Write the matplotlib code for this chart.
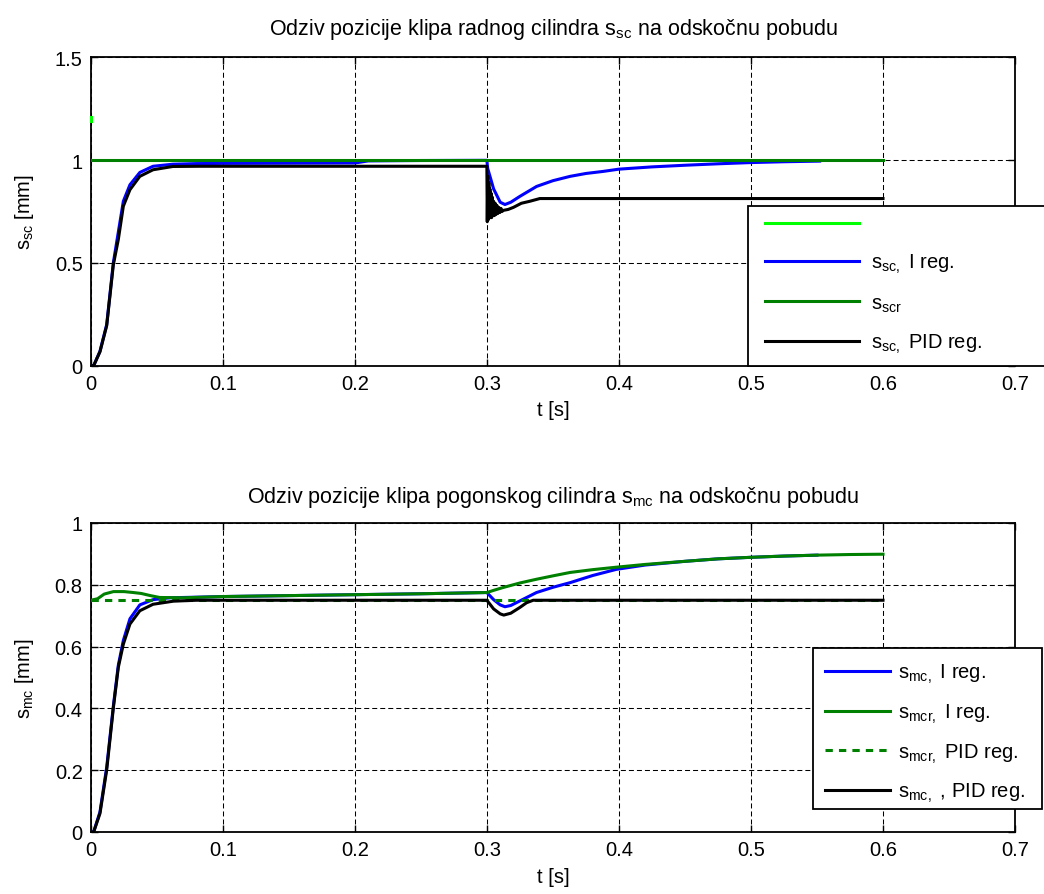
import matplotlib
matplotlib.use("Agg")
import matplotlib.pyplot as plt
from matplotlib.patches import Rectangle

plt.rcParams['font.family'] = ['Liberation Sans', 'DejaVu Sans']
plt.rcParams['mathtext.fontset'] = 'custom'
plt.rcParams['mathtext.rm'] = 'Liberation Sans'

# ---------------- data: top plot (s_sc) ----------------
top_lg_t = [0.0, 0.0]
top_lg_v = [1.19, 1.21]

top_ref_t = [0.0, 0.6]
top_ref_v = [1.0, 1.0]

top_i_t = [0, 0.002, 0.0068, 0.0119, 0.0169, 0.0207, 0.0245, 0.0295, 0.037, 0.047,
           0.062, 0.08, 0.1, 0.15, 0.2, 0.21, 0.25, 0.2999, 0.3005, 0.305, 0.31,
           0.3136, 0.318, 0.325, 0.3376, 0.35, 0.363, 0.375, 0.388, 0.40, 0.425,
           0.45, 0.475, 0.5, 0.525, 0.552]
top_i_v = [0, 0.0, 0.07, 0.2, 0.5, 0.65, 0.8, 0.88, 0.94, 0.97,
           0.98, 0.983, 0.984, 0.985, 0.986, 0.996, 0.998, 0.999, 0.96, 0.86, 0.795,
           0.784, 0.795, 0.824, 0.872, 0.9, 0.921, 0.935, 0.945, 0.956, 0.967,
           0.975, 0.982, 0.988, 0.992, 0.995]

top_pid_t = [0, 0.002, 0.0068, 0.0119, 0.0169, 0.0207, 0.0245, 0.0295, 0.037, 0.047,
             0.062, 0.082, 0.15, 0.2999,
             0.3002, 0.3006, 0.301, 0.3014, 0.3018, 0.3022, 0.3026, 0.303, 0.3035,
             0.304, 0.3045, 0.305, 0.3056, 0.3062, 0.3068, 0.3075, 0.3082, 0.309,
             0.3098, 0.3106, 0.3115, 0.312, 0.316, 0.32, 0.326, 0.3326, 0.34, 0.6]
top_pid_v = [0, 0.0, 0.068, 0.195, 0.49, 0.614, 0.776, 0.856, 0.921, 0.953,
             0.969, 0.970, 0.970, 0.970,
             0.70, 0.92, 0.71, 0.89, 0.72, 0.86, 0.72, 0.84, 0.72,
             0.82, 0.73, 0.80, 0.73, 0.79, 0.735, 0.78, 0.74, 0.77,
             0.745, 0.765, 0.75, 0.755, 0.76, 0.77, 0.79, 0.80, 0.813, 0.813]

# ---------------- data: bottom plot (s_mc) ----------------
bot_i_t = [0, 0.002, 0.0068, 0.0119, 0.017, 0.0207, 0.0245, 0.0295, 0.037, 0.047,
           0.06, 0.08, 0.1, 0.15, 0.2, 0.25, 0.2999, 0.305, 0.31, 0.3136, 0.318,
           0.325, 0.3375, 0.35, 0.363, 0.38, 0.398, 0.42, 0.45, 0.475, 0.5, 0.525, 0.55]
bot_i_v = [0, 0.0, 0.065, 0.21, 0.41, 0.54, 0.62, 0.69, 0.735, 0.752,
           0.758, 0.76, 0.762, 0.765, 0.768, 0.771, 0.775, 0.752, 0.735, 0.729, 0.733,
           0.748, 0.775, 0.792, 0.807, 0.83, 0.85, 0.864, 0.876, 0.884, 0.889, 0.893, 0.896]

bot_ri_t = [0, 0.005, 0.01, 0.017, 0.025, 0.032, 0.038, 0.045, 0.052, 0.07, 0.1,
            0.15, 0.2, 0.25, 0.2999, 0.305, 0.312, 0.325, 0.3375, 0.35, 0.363, 0.38,
            0.398, 0.42, 0.45, 0.475, 0.5, 0.525, 0.55, 0.575, 0.6]
bot_ri_v = [0.75, 0.755, 0.77, 0.778, 0.778, 0.775, 0.772, 0.765, 0.759, 0.758, 0.762,
            0.765, 0.768, 0.771, 0.775, 0.782, 0.791, 0.806, 0.818, 0.829, 0.84, 0.849,
            0.857, 0.866, 0.876, 0.884, 0.889, 0.893, 0.896, 0.898, 0.899]

bot_rp_t = [0.0, 0.6]
bot_rp_v = [0.75, 0.75]

bot_pid_t = [0, 0.002, 0.0068, 0.0119, 0.017, 0.0207, 0.0245, 0.0295, 0.037, 0.047,
             0.0624, 0.08, 0.2999, 0.305, 0.31, 0.3127, 0.318, 0.325, 0.33, 0.335, 0.6]
bot_pid_v = [0, 0, 0.06, 0.201, 0.404, 0.533, 0.608, 0.673, 0.716, 0.737,
             0.747, 0.75, 0.75, 0.722, 0.706, 0.702, 0.708, 0.727, 0.742, 0.75, 0.75]

xticks = [0, 0.1, 0.2, 0.3, 0.4, 0.5, 0.6, 0.7]
xticklabels = ['0', '0.1', '0.2', '0.3', '0.4', '0.5', '0.6', '0.7']
top_yticks = [0, 0.5, 1, 1.5]
top_yticklabels = ['0', '0.5', '1', '1.5']
bot_yticks = [0, 0.2, 0.4, 0.6, 0.8, 1]
bot_yticklabels = ['0', '0.2', '0.4', '0.6', '0.8', '1']

FS = 14.5
FS_T = 15.5
W, H = 1044, 895
fig = plt.figure(figsize=(W / 100, H / 100), dpi=100)

ax1 = fig.add_axes([91 / W, 1 - 366.7 / H, 924 / W, 308.4 / H])
ax2 = fig.add_axes([91 / W, 1 - 833 / H, 924 / W, 309 / H])

LW = 2.2
c_blue = '#0000ff'
c_green = '#008000'
c_lgreen = '#00ff00'

# top
h0, = ax1.plot(top_lg_t, top_lg_v, color=c_lgreen, lw=LW, clip_on=False, zorder=6)
h1, = ax1.plot(top_i_t, top_i_v, color=c_blue, lw=LW, zorder=3)
h2, = ax1.plot(top_ref_t, top_ref_v, color=c_green, lw=LW, zorder=4)
h3, = ax1.plot(top_pid_t, top_pid_v, color='black', lw=LW, zorder=5)

# bottom
g1, = ax2.plot(bot_i_t, bot_i_v, color=c_blue, lw=LW, zorder=3)
g2, = ax2.plot(bot_ri_t, bot_ri_v, color=c_green, lw=LW, zorder=4)
g3, = ax2.plot(bot_rp_t, bot_rp_v, color=c_green, lw=LW, ls=(0, (2.4, 2.0)), zorder=4)
g4, = ax2.plot(bot_pid_t, bot_pid_v, color='black', lw=LW, zorder=5)

for ax, yt, ytl, ylim in [(ax1, top_yticks, top_yticklabels, (0, 1.5)),
                          (ax2, bot_yticks, bot_yticklabels, (0, 1))]:
    ax.set_xlim(0, 0.7)
    ax.set_ylim(*ylim)
    ax.set_xticks(xticks)
    ax.set_xticklabels(xticklabels)
    ax.set_yticks(yt)
    ax.set_yticklabels(ytl)
    ax.tick_params(direction='in', length=5, width=1, top=True, right=True,
                   labelsize=FS, colors='black')
    ax.tick_params(axis='y', pad=6)
    ax.tick_params(axis='x', pad=6)
    ax.grid(True, color='black', lw=0.75, ls=(0, (4.8, 2.9)))
    ax.set_axisbelow(True)
    for s in ax.spines.values():
        s.set_linewidth(1.3)
    ax.set_xlabel('t [s]', fontsize=FS)
    ax.xaxis.set_label_coords(0.5, -0.112)

ax1.set_ylabel(r'$\mathregular{s_{sc}}$ [mm]', fontsize=FS)
ax1.yaxis.set_label_coords(-0.06, 0.5)
ax2.set_ylabel(r'$\mathregular{s_{mc}}$ [mm]', fontsize=FS)
ax2.yaxis.set_label_coords(-0.06, 0.5)

ax1.set_title(r'Odziv pozicije klipa radnog cilindra $\mathregular{s_{sc}}$ na odskočnu pobudu',
              fontsize=FS_T, pad=17)
ax2.set_title(r'Odziv pozicije klipa pogonskog cilindra $\mathregular{s_{mc}}$ na odskočnu pobudu',
              fontsize=FS_T, pad=15)

# legend frames (figure pixel boxes)
def frame(ax, x0, y0, x1, y1):
    r = Rectangle((x0 / W, 1 - y1 / H), (x1 - x0) / W, (y1 - y0) / H,
                  transform=fig.transFigure, facecolor='white', edgecolor='black',
                  lw=1.3, clip_on=False, zorder=9)
    ax.add_artist(r)

frame(ax1, 748, 206.7, 1060, 367.3)
frame(ax2, 813, 649.3, 1042, 810)

leg1 = ax1.legend([h0, h1, h2, h3],
                  ['', r'$\mathregular{s_{sc,}}$ I reg.', r'$\mathregular{s_{scr}}$',
                   r'$\mathregular{s_{sc,}}$ PID reg.'],
                  loc='upper left', bbox_to_anchor=(765 / W, 1 - 216 / H),
                  bbox_transform=fig.transFigure, fontsize=FS, frameon=False,
                  handlelength=4.65, handletextpad=0.6, labelspacing=0.9,
                  borderpad=0, borderaxespad=0)
leg1.set_zorder(10)

leg2 = ax2.legend([g1, g2, g3, g4],
                  [r'$\mathregular{s_{mc,}}$ I reg.', r'$\mathregular{s_{mcr,}}$ I reg.',
                   r'$\mathregular{s_{mcr,}}$ PID reg.', r'$\mathregular{s_{mc,}}$ , PID reg.'],
                  loc='upper left', bbox_to_anchor=(825 / W, 1 - 663 / H),
                  bbox_transform=fig.transFigure, fontsize=FS, frameon=False,
                  handlelength=3.25, handletextpad=0.35, labelspacing=0.82,
                  borderpad=0, borderaxespad=0)
leg2.set_zorder(10)

fig.savefig('out.png', dpi=100, facecolor='white')
